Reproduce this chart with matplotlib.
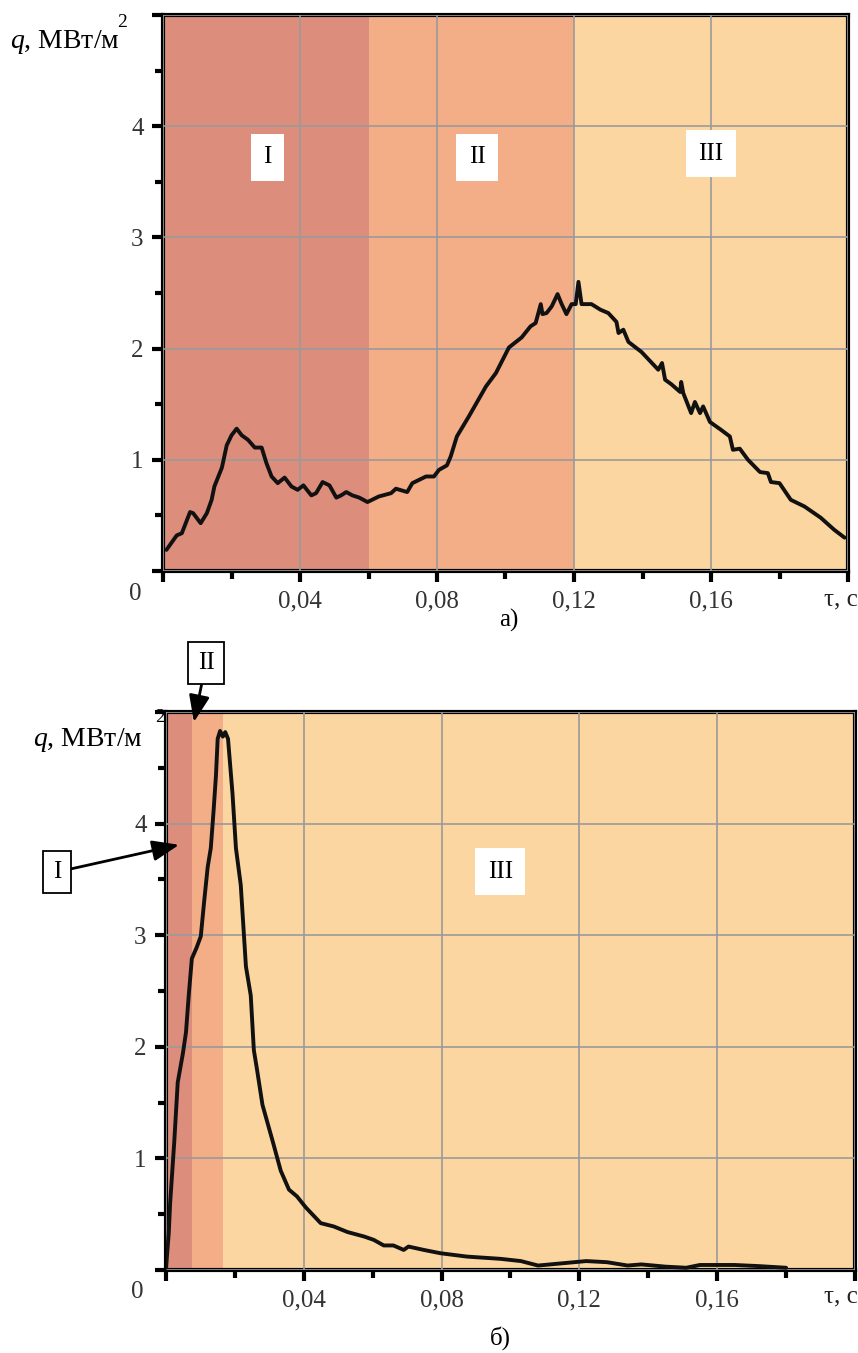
import matplotlib
matplotlib.use("Agg")
import matplotlib.pyplot as plt
from matplotlib.ticker import MultipleLocator

plt.rcParams['font.family'] = ['Liberation Serif', 'DejaVu Serif']
plt.rcParams['mathtext.fontset'] = 'custom'
plt.rcParams['mathtext.rm'] = 'Liberation Serif'
plt.rcParams['mathtext.it'] = 'Liberation Serif:italic'

# --- data: panel а) ---
top_t = [0.001, 0.004, 0.0055, 0.0079, 0.0088, 0.011, 0.0128, 0.0142, 0.015, 0.0172,
         0.0186, 0.020, 0.0215, 0.023, 0.0248, 0.0268, 0.0288, 0.0302, 0.0317, 0.0335,
         0.0355, 0.0375, 0.0393, 0.041, 0.0433, 0.0447, 0.0466, 0.0486, 0.0506, 0.052,
         0.0535, 0.0553, 0.0573, 0.0597, 0.063, 0.0666, 0.068, 0.0713, 0.0728, 0.0768,
         0.0791, 0.0806, 0.0829, 0.084, 0.0858, 0.0893, 0.0943, 0.0972, 0.101, 0.1047,
         0.1073, 0.1088, 0.1103, 0.1108, 0.112, 0.1135, 0.1152, 0.1164, 0.1178, 0.1193,
         0.1205, 0.1213, 0.1222, 0.1251, 0.1277, 0.130, 0.1324, 0.133, 0.1344, 0.1359,
         0.1397, 0.1446, 0.1457, 0.1466, 0.1484, 0.151, 0.1513, 0.1519, 0.1542, 0.1553,
         0.1568, 0.1577, 0.1597, 0.1629, 0.1655, 0.1664, 0.1684, 0.1708, 0.1743, 0.1766,
         0.1775, 0.180, 0.1833, 0.1873, 0.192, 0.196, 0.199]
top_q = [0.19, 0.32, 0.34, 0.53, 0.52, 0.43, 0.52, 0.64, 0.76, 0.93,
         1.13, 1.22, 1.28, 1.22, 1.18, 1.11, 1.11, 0.97, 0.85, 0.79,
         0.84, 0.76, 0.73, 0.77, 0.68, 0.70, 0.80, 0.77, 0.66, 0.68,
         0.71, 0.68, 0.66, 0.62, 0.67, 0.70, 0.74, 0.71, 0.79, 0.85,
         0.85, 0.91, 0.95, 1.03, 1.21, 1.39, 1.66, 1.78, 2.01, 2.10,
         2.20, 2.23, 2.40, 2.31, 2.32, 2.38, 2.49, 2.40, 2.31, 2.40,
         2.40, 2.60, 2.40, 2.40, 2.35, 2.32, 2.24, 2.14, 2.17, 2.06,
         1.97, 1.81, 1.87, 1.72, 1.68, 1.61, 1.70, 1.60, 1.42, 1.52,
         1.42, 1.48, 1.34, 1.27, 1.21, 1.09, 1.10, 1.00, 0.89, 0.88,
         0.80, 0.79, 0.64, 0.58, 0.48, 0.37, 0.30]
top_zones = [0.0, 0.06, 0.12, 0.2]

# --- data: panel б) ---
bot_t = [0.0, 0.0008, 0.0012, 0.0024, 0.0034, 0.0049, 0.0058, 0.0066, 0.0075, 0.0089,
         0.0101, 0.0111, 0.0121, 0.013, 0.0138, 0.0145, 0.015, 0.0157, 0.0165, 0.0172,
         0.018, 0.0193, 0.0203, 0.0217, 0.0232, 0.0246, 0.0255, 0.0264, 0.028, 0.031,
         0.0333, 0.0357, 0.038, 0.0406, 0.0449, 0.0487, 0.0527, 0.0575, 0.0603, 0.0632,
         0.066, 0.069, 0.0704, 0.0748, 0.0797, 0.0874, 0.0971, 0.103, 0.108, 0.115,
         0.122, 0.128, 0.134, 0.138, 0.145, 0.151, 0.155, 0.165, 0.172, 0.18]
bot_q = [0.02, 0.33, 0.60, 1.15, 1.68, 1.94, 2.13, 2.46, 2.79, 2.89,
         2.99, 3.31, 3.61, 3.78, 4.11, 4.43, 4.76, 4.83, 4.78, 4.82,
         4.76, 4.27, 3.78, 3.45, 2.72, 2.46, 1.97, 1.80, 1.48, 1.15,
         0.89, 0.72, 0.66, 0.56, 0.42, 0.39, 0.34, 0.30, 0.27, 0.22,
         0.22, 0.18, 0.21, 0.18, 0.15, 0.12, 0.10, 0.08, 0.04, 0.06,
         0.08, 0.07, 0.04, 0.05, 0.03, 0.02, 0.045, 0.045, 0.035, 0.02]
bot_zones = [0.0, 0.0075, 0.0165, 0.2]

zone_names = ["I", "II", "III"]
zone_colors = ["#DC8D7C", "#F3AD87", "#FBD6A0"]
xtick_labels = ["", "0,04", "0,08", "0,12", "0,16", ""]
ytick_labels = ["", "1", "2", "3", "4", ""]

W, H = 858, 1353
fig = plt.figure(figsize=(W / 100, H / 100), dpi=100)


def px(x, y):
    return x / W, 1 - y / H


def setup(ax, zones, t, q):
    for i in range(3):
        ax.axvspan(zones[i], zones[i + 1], color=zone_colors[i], lw=0, zorder=0)
    ax.set_xlim(0, 0.2)
    ax.set_ylim(0, 5)
    ax.set_xticks([0, 0.04, 0.08, 0.12, 0.16, 0.2])
    ax.set_xticklabels(xtick_labels)
    ax.set_yticks([0, 1, 2, 3, 4, 5])
    ax.set_yticklabels(ytick_labels)
    ax.xaxis.set_minor_locator(MultipleLocator(0.02))
    ax.yaxis.set_minor_locator(MultipleLocator(0.5))
    ax.grid(True, which='major', color='#9a9a9a', lw=1.2, zorder=1)
    ax.set_axisbelow(False)
    ax.tick_params(which='major', direction='out', length=8, width=3, labelsize=18,
                   labelcolor='#333333', pad=6)
    ax.tick_params(which='minor', direction='out', length=6, width=3)
    for s in ax.spines.values():
        s.set_linewidth(3)
        s.set_color('black')
    ax.plot(t, q, color='#111111', lw=2.8, solid_joinstyle='round',
            solid_capstyle='round', zorder=3)


ax1 = fig.add_axes([163 / W, 1 - 571 / H, 685 / W, 556 / H])
setup(ax1, top_zones, top_t, top_q)
ax2 = fig.add_axes([166 / W, 1 - 1270 / H, 689 / W, 558 / H])
setup(ax2, bot_zones, bot_t, bot_q)

# zone labels
box = dict(boxstyle='square,pad=0.5', fc='white', ec='none')
for name, x, y in zip(zone_names, [0.0305, 0.0917, 0.160], [3.72, 3.72, 3.75]):
    ax1.text(x, y, name, ha='center', va='center', fontsize=18, bbox=box, zorder=4)
ax2.text(0.097, 3.57, "III", ha='center', va='center', fontsize=18, bbox=box, zorder=4)

# annotated boxes for narrow zones in б)
box_ec = dict(boxstyle='square,pad=0.4', fc='white', ec='black', lw=1.3)
arrow = dict(arrowstyle='-|>,head_length=0.9,head_width=0.35', color='black', lw=2,
             shrinkA=0, shrinkB=0)
ax2.annotate("I", xy=(0.0038, 3.81), xycoords='data', xytext=px(57, 872),
             textcoords='figure fraction', ha='center', va='center', fontsize=18,
             bbox=box_ec, arrowprops=arrow, annotation_clip=False)
ax2.annotate("II", xy=(0.0081, 4.91), xycoords='data', xytext=px(206, 663),
             textcoords='figure fraction', ha='center', va='center', fontsize=18,
             bbox=box_ec, arrowprops=arrow, annotation_clip=False)

# axis titles
fig.text(*px(10, 48), r"$q$, МВт/м", fontsize=20, ha='left', va='baseline')
fig.text(*px(117, 27), "2", fontsize=14, ha='left', va='baseline')
fig.text(*px(33, 746), r"$q$, МВт/м", fontsize=20, ha='left', va='baseline')
fig.text(*px(155, 722), "2", fontsize=14, ha='left', va='baseline', zorder=-1)

# captions
fig.text(*px(509, 620), "а)", fontsize=18, ha='center', va='center')
fig.text(*px(500, 1338), "б)", fontsize=18, ha='center', va='center')

fig.text(*px(135, 594), "0", fontsize=18, color='#333333', ha='center', va='center')
fig.text(*px(137, 1292), "0", fontsize=18, color='#333333', ha='center', va='center')
fig.text(*px(858, 599), "τ, с", fontsize=18, color='#222222', ha='right', va='center')
fig.text(*px(858, 1296), "τ, с", fontsize=18, color='#222222', ha='right', va='center')

fig.savefig("out.png", dpi=100, facecolor='white')
